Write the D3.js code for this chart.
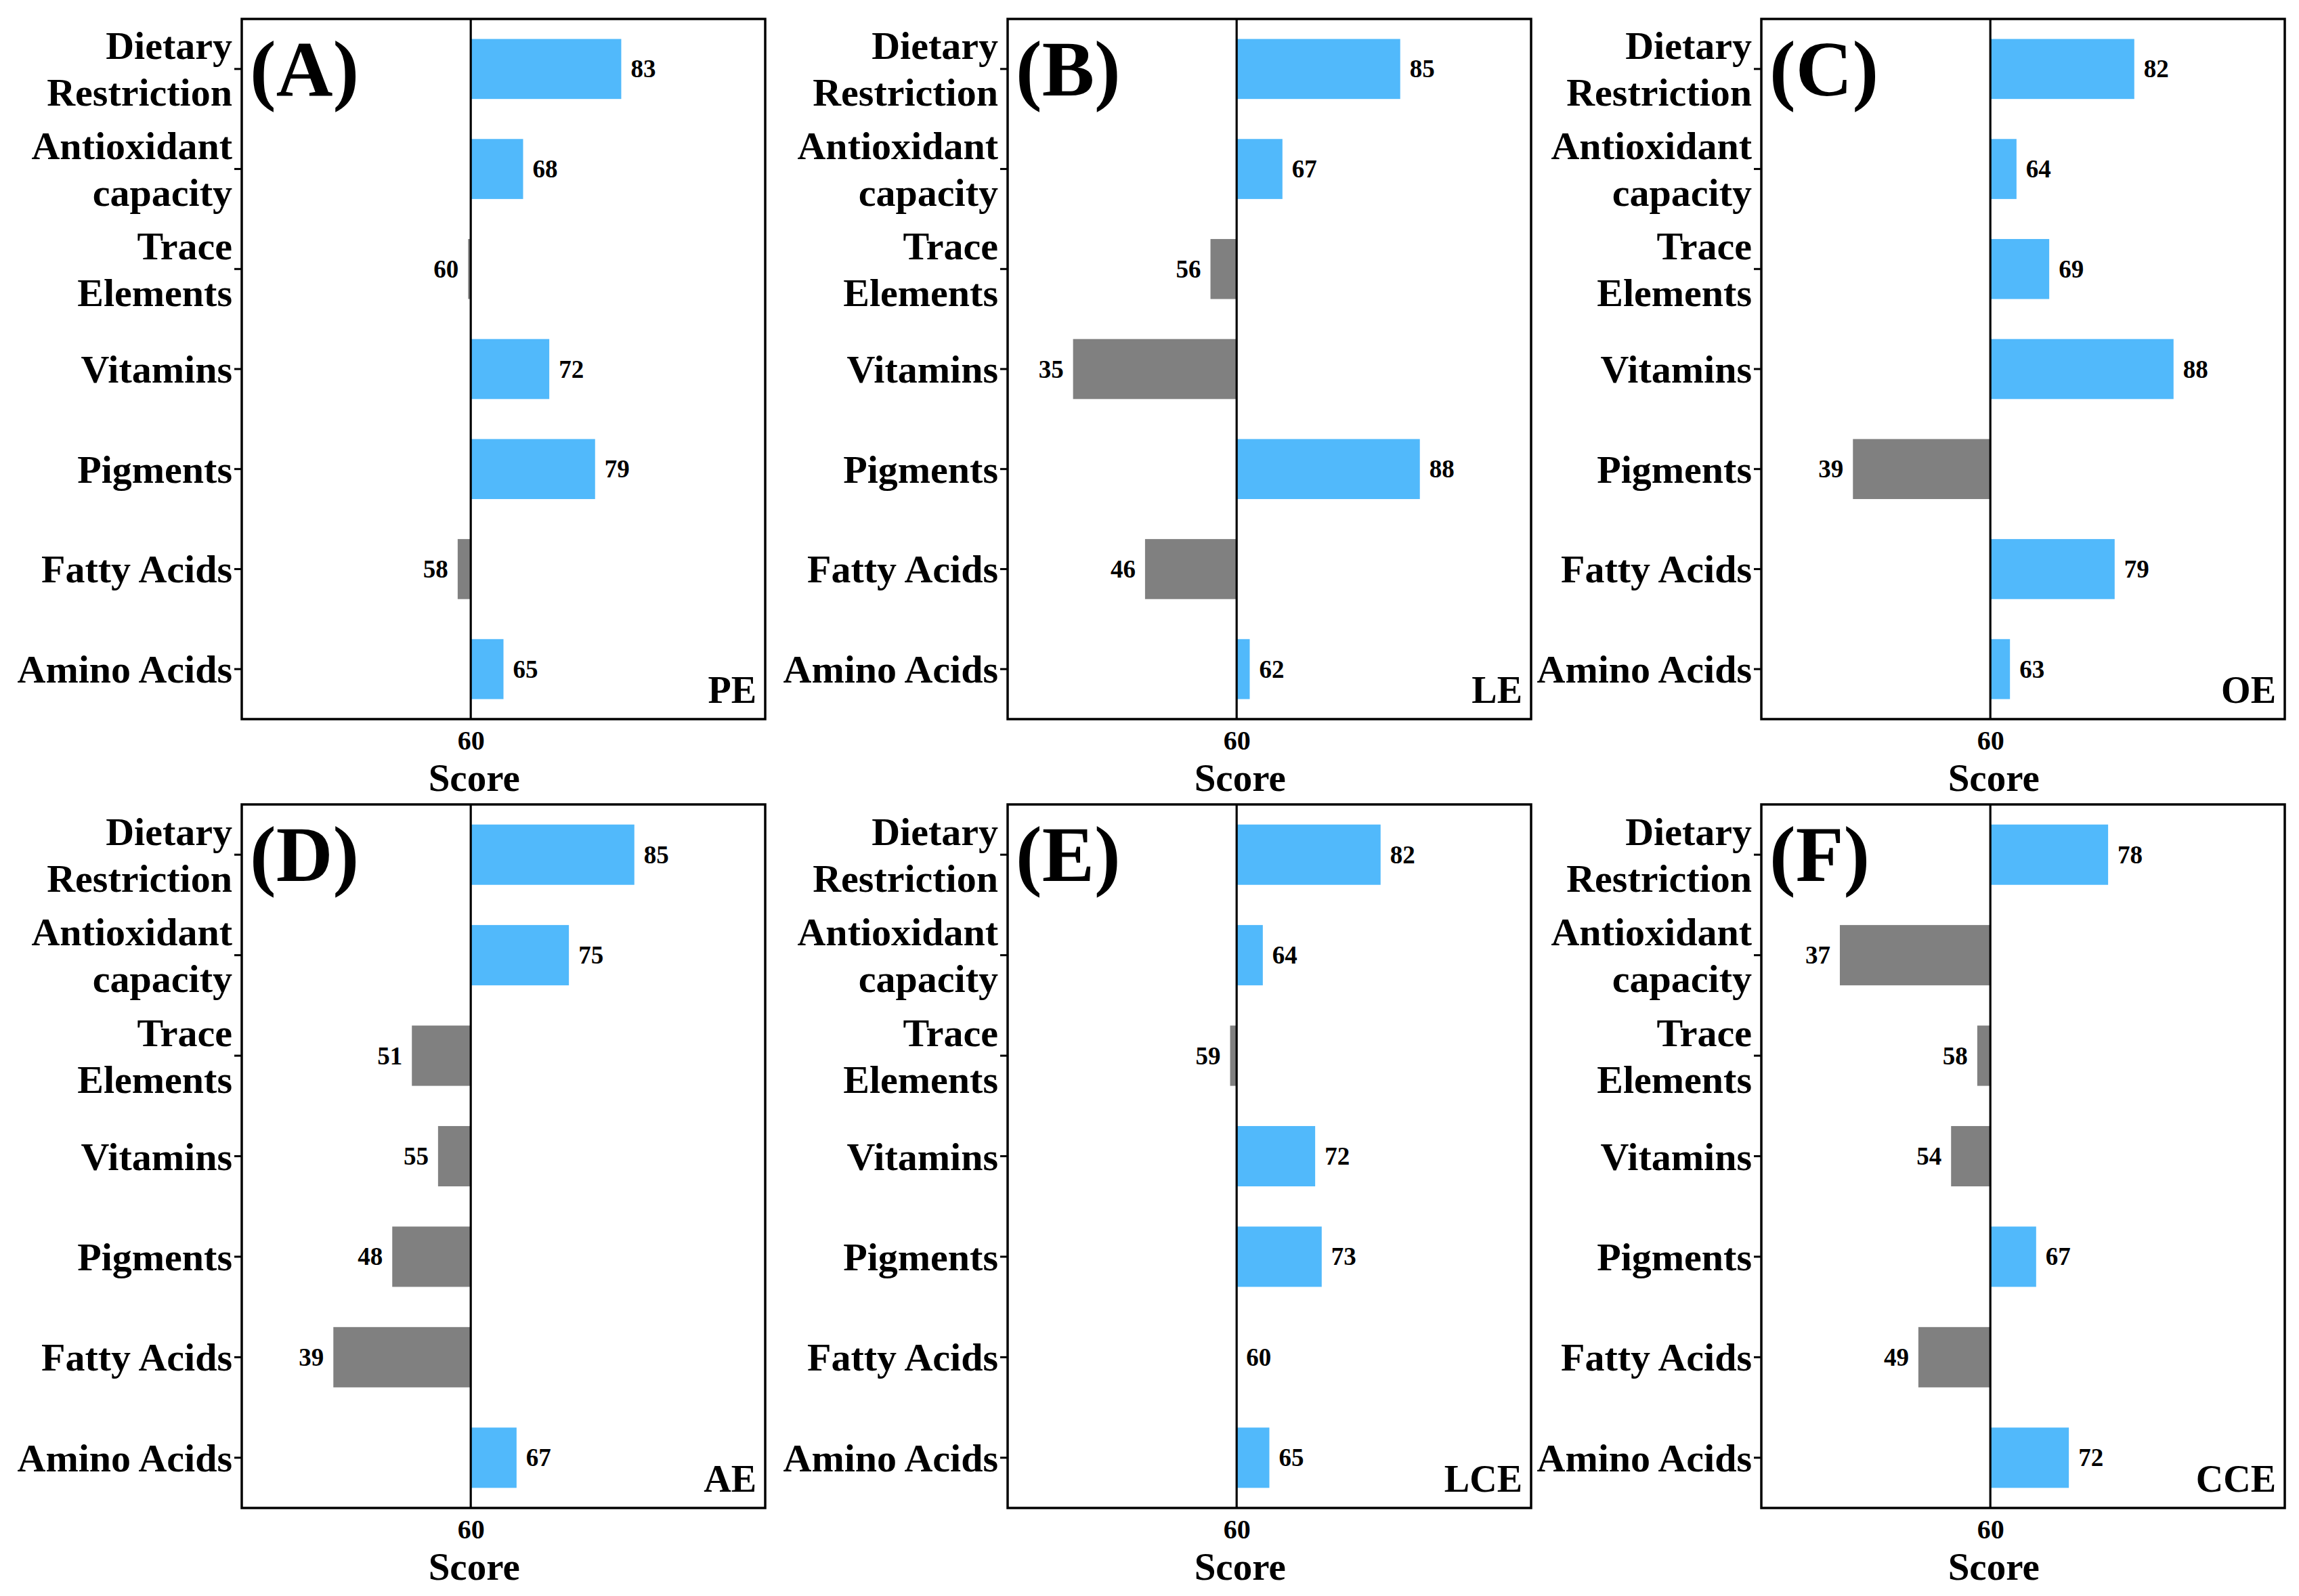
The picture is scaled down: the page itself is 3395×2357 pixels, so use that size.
<!DOCTYPE html>
<html>
<head>
<meta charset="utf-8">
<script src="https://cdn.jsdelivr.net/npm/d3@7"></script>
<style>
  html, body { margin: 0; padding: 0; background: #ffffff; }
  svg { display: block; }
  text { font-family: "Liberation Serif", "Times New Roman", serif; font-weight: bold; fill: #000; }
</style>
</head>
<body>
<svg id="chart" width="3395" height="2357"></svg>
<script>
// ---------- data ----------
const categories = ["Dietary Restriction", "Antioxidant capacity", "Trace Elements", "Vitamins", "Pigments", "Fatty Acids", "Amino Acids"];
const categoryLines = [["Dietary", "Restriction"], ["Antioxidant", "capacity"], ["Trace", "Elements"], ["Vitamins"], ["Pigments"], ["Fatty Acids"], ["Amino Acids"]];
const panelLetters = ["(A)", "(B)", "(C)", "(D)", "(E)", "(F)"];
const groups = ["PE", "LE", "OE", "AE", "LCE", "CCE"];
const valuesPE  = [83, 68, 59.6, 72, 79, 58, 65];
const valuesLE  = [85, 67, 56, 35, 88, 46, 62];
const valuesOE  = [82, 64, 69, 88, 39, 79, 63];
const valuesAE  = [85, 75, 51, 55, 48, 39, 67];
const valuesLCE = [82, 64, 59, 72, 73, 60, 65];
const valuesCCE = [78, 37, 58, 54, 67, 49, 72];
const seriesValues = [valuesPE, valuesLE, valuesOE, valuesAE, valuesLCE, valuesCCE];
const xTickValues = [60];
const baseline = 60;
const xDomain = [25, 105];
const xTitle = "Score";

// ---------- layout ----------
const colLefts = [357, 1488, 2601];
const rowTops = [28, 1188];
const rowHeights = [1034, 1039];
const panelWidth = 773;
const blue = "#51B9FB";
const gray = "#808080";

const svg = d3.select("#chart");
svg.append("rect").attr("width", 3395).attr("height", 2357).attr("fill", "#fff");

seriesValues.forEach((vals, i) => {
  const col = i % 3, row = Math.floor(i / 3);
  const left = colLefts[col], top = rowTops[row], h = rowHeights[row], w = panelWidth;
  const g = svg.append("g").attr("transform", `translate(${left},${top})`);

  const x = d3.scaleLinear().domain(xDomain).range([0, w]);
  const y = d3.scaleBand().domain(categories).range([0, h]).paddingInner(0.4).paddingOuter(0.2);

  // bars
  g.selectAll("rect.bar").data(vals).join("rect")
    .attr("class", "bar")
    .attr("x", d => x(Math.min(d, baseline)))
    .attr("width", d => Math.abs(x(d) - x(baseline)))
    .attr("y", (d, j) => y(categories[j]))
    .attr("height", y.bandwidth())
    .attr("fill", d => d >= baseline ? blue : gray);

  // value labels
  g.selectAll("text.val").data(vals).join("text")
    .attr("class", "val")
    .attr("x", d => d >= baseline ? x(d) + 14 : x(d) - 14)
    .attr("y", (d, j) => y(categories[j]) + y.bandwidth() / 2)
    .attr("text-anchor", d => d >= baseline ? "start" : "end")
    .attr("dominant-baseline", "central")
    .attr("font-size", 37)
    .text(d => Math.round(d));

  // baseline line
  g.append("line")
    .attr("x1", x(baseline)).attr("x2", x(baseline))
    .attr("y1", 0).attr("y2", h)
    .attr("stroke", "#000").attr("stroke-width", 3.2);

  // frame
  g.append("rect")
    .attr("x", 0).attr("y", 0).attr("width", w).attr("height", h)
    .attr("fill", "none").attr("stroke", "#000").attr("stroke-width", 3.5);

  // y axis
  const yAxis = g.append("g").call(d3.axisLeft(y).tickSize(11).tickPadding(3));
  yAxis.select(".domain").remove();
  yAxis.selectAll(".tick line").attr("stroke", "#000").attr("stroke-width", 3);
  yAxis.selectAll(".tick text").each(function(d) {
    const t = d3.select(this);
    const lines = categoryLines[categories.indexOf(d)];
    t.text(null)
      .attr("font-size", 58)
      .attr("font-family", "Liberation Serif, Times New Roman, serif")
      .attr("font-weight", "bold")
      .attr("fill", "#000")
      .attr("dy", null)
      .attr("dominant-baseline", "central");
    lines.forEach((ln, k) => {
      t.append("tspan")
        .attr("x", -14)
        .attr("y", (k - (lines.length - 1) / 2) * 69)
        .text(ln);
    });
  });

  // x axis
  const xAxis = g.append("g").attr("transform", `translate(0,${h})`)
    .call(d3.axisBottom(x).tickValues(xTickValues).tickSize(0).tickPadding(0));
  xAxis.select(".domain").remove();
  xAxis.selectAll(".tick text")
    .attr("y", 31)
    .attr("dy", null)
    .attr("dominant-baseline", "central")
    .attr("font-size", 40)
    .attr("font-family", "Liberation Serif, Times New Roman, serif")
    .attr("font-weight", "bold")
    .attr("fill", "#000");

  // x title
  g.append("text")
    .attr("x", x(baseline) + 5)
    .attr("y", h + 86)
    .attr("text-anchor", "middle")
    .attr("dominant-baseline", "central")
    .attr("font-size", 57)
    .text(xTitle);

  // panel letter
  g.append("text")
    .attr("x", 12)
    .attr("y", 113)
    .attr("font-size", 116)
    .text(panelLetters[i]);

  // group label
  g.append("text")
    .attr("x", w - 13)
    .attr("y", h - 24)
    .attr("text-anchor", "end")
    .attr("font-size", 56)
    .text(groups[i]);
});
</script>
</body>
</html>
